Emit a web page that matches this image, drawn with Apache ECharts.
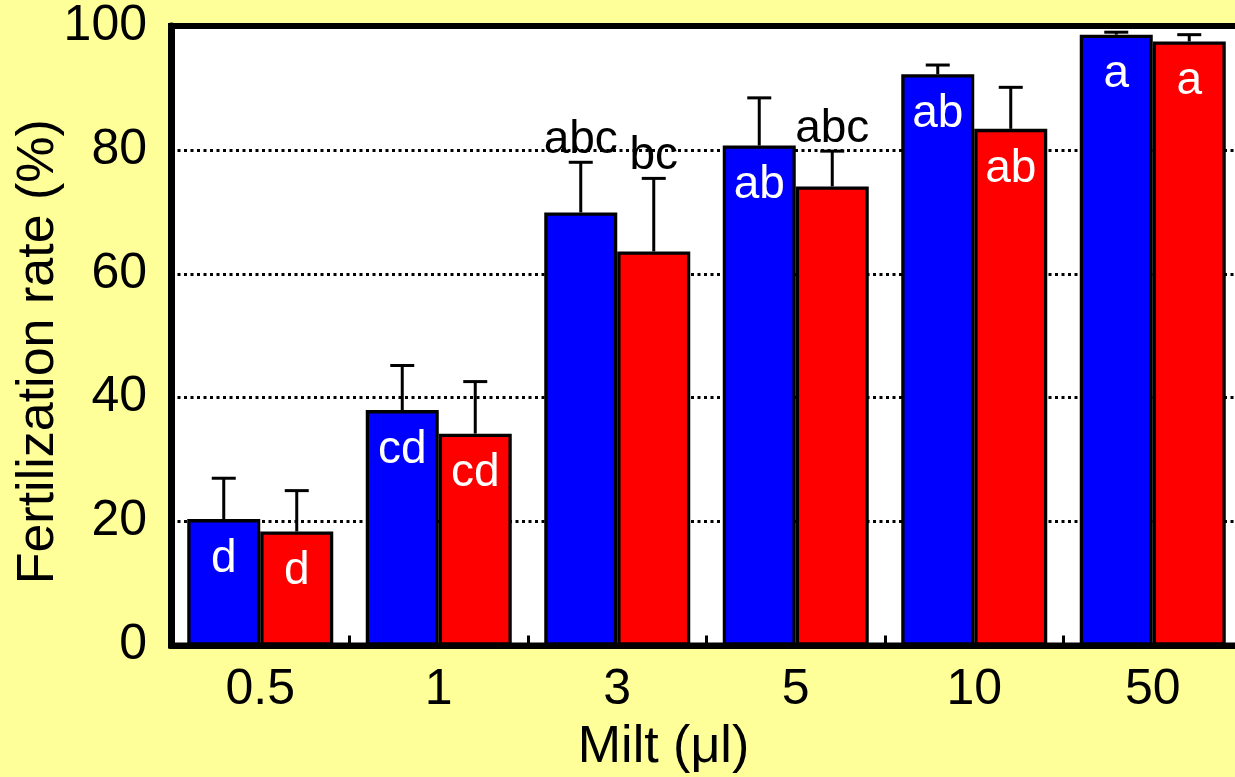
<!DOCTYPE html>
<html>
<head>
<meta charset="utf-8">
<script src="https://cdn.jsdelivr.net/npm/echarts@6/dist/echarts.min.js"></script>
<style>
  html, body { margin: 0; padding: 0; background: #FFFF99; }
  #main { width: 1235px; height: 777px; }
</style>
</head>
<body>
<div id="main"></div>
<script>
// milt volume groups
var categories = ['0.5', '1', '3', '5', '10', '50'];

// blue series: mean and upper error (SE)
var blueMean = [20.4, 38.0, 69.9, 80.7, 92.2, 98.6];
var blueSE   = [6.6, 7.2, 8.1, 7.7, 1.5, 0.4];
var blueLetters = ['d', 'cd', 'abc', 'ab', 'ab', 'a'];

// red series
var redMean = [18.4, 34.2, 63.6, 74.1, 83.4, 97.5];
var redSE   = [6.6, 8.4, 11.8, 5.7, 6.7, 1.1];
var redLetters = ['d', 'cd', 'bc', 'abc', 'ab', 'a'];

var yTicks = [0, 20, 40, 60, 80, 100];

var font = 'Liberation Sans, Arial, sans-serif';
var barW = 73;
// letters that sit above the error bar (black) instead of inside the bar
var blueAbove = { 2: true };
var redAbove = { 2: true, 3: true };

var myChart = echarts.init(document.getElementById('main'));

function errorItem(side, means, ses, letters, above) {
  return function (params, api) {
    var i = params.dataIndex;
    var base = api.coord([i, means[i]]);
    var top = api.coord([i, means[i] + ses[i]]);
    var x = base[0] + side * barW / 2;
    var children = [
      { type: 'line', shape: { x1: x, y1: base[1], x2: x, y2: top[1] },
        style: { stroke: '#000', lineWidth: 3 } },
      { type: 'line', shape: { x1: x - 12, y1: top[1], x2: x + 12, y2: top[1] },
        style: { stroke: '#000', lineWidth: 3 } }
    ];
    if (above[i]) {
      children.push({ type: 'text', x: x, y: top[1] + 1,
        style: { text: letters[i], fill: '#000', fontSize: 46, fontFamily: font,
                 align: 'center', verticalAlign: 'bottom' } });
    } else {
      children.push({ type: 'text', x: x, y: base[1] + 17,
        style: { text: letters[i], fill: '#fff', fontSize: 46, fontFamily: font,
                 align: 'center', verticalAlign: 'top' } });
    }
    return { type: 'group', children: children };
  };
}

var option = {
  backgroundColor: '#FFFF99',
  animation: false,
  grid: {
    left: 171, top: 26, width: 1071, height: 619.5,
    outerBoundsMode: 'none',
    show: true, backgroundColor: '#fff', borderColor: '#000', borderWidth: 6
  },
  xAxis: {
    type: 'category',
    data: categories,
    axisLine: { lineStyle: { color: '#000', width: 6 } },
    axisTick: { show: true, inside: true, length: 10, lineStyle: { color: '#000', width: 3 } },
    axisLabel: { fontSize: 50, color: '#000', fontFamily: font, margin: 20 },
    name: 'Milt (\u03bcl)',
    nameLocation: 'middle',
    nameGap: 76,
    nameMoveOverlap: false,
    nameTextStyle: { fontSize: 52, color: '#000', fontFamily: font, padding: [0, 86, 0, 0] }
  },
  yAxis: {
    type: 'value',
    min: yTicks[0], max: yTicks[yTicks.length - 1], interval: yTicks[1] - yTicks[0],
    axisLine: { show: true, lineStyle: { color: '#000', width: 7 } },
    axisTick: { show: false },
    splitLine: { show: true, lineStyle: { color: '#000', width: 3, type: [3, 3.5] } },
    axisLabel: { fontSize: 50, color: '#000', fontFamily: font, margin: 24, padding: [12, 0, 0, 0] },
    name: 'Fertilization rate (%)',
    nameLocation: 'middle',
    nameGap: 106,
    nameMoveOverlap: false,
    nameTextStyle: { fontSize: 52, color: '#000', fontFamily: font, padding: [0, 32, 0, 0] }
  },
  series: [
    {
      name: 'blue', type: 'bar', data: blueMean, barWidth: barW, barGap: '0%',
      itemStyle: { color: '#0000FF', borderColor: '#000', borderWidth: 3.3 }
    },
    {
      name: 'red', type: 'bar', data: redMean, barWidth: barW, barGap: '0%',
      itemStyle: { color: '#FF0000', borderColor: '#000', borderWidth: 3.3 }
    },
    {
      type: 'custom', z: 5,
      renderItem: errorItem(-1, blueMean, blueSE, blueLetters, blueAbove),
      data: blueMean.map(function (m, i) { return [i, m + blueSE[i]]; })
    },
    {
      type: 'custom', z: 5,
      renderItem: errorItem(1, redMean, redSE, redLetters, redAbove),
      data: redMean.map(function (m, i) { return [i, m + redSE[i]]; })
    }
  ]
};

option && myChart.setOption(option);
</script>
</body>
</html>
